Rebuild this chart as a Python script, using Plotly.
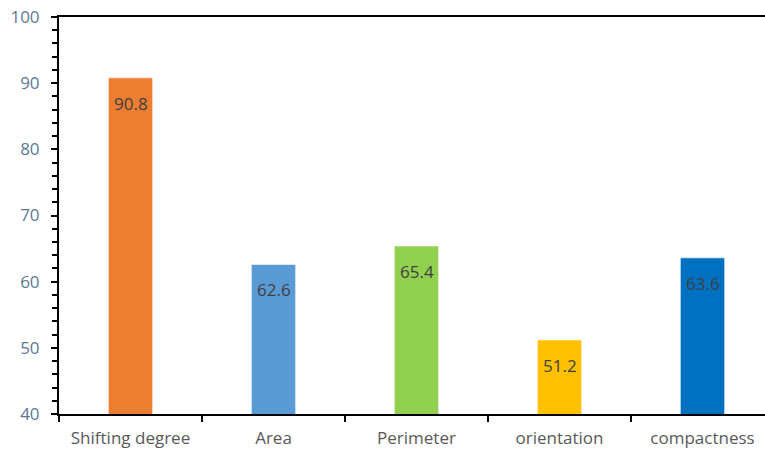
import plotly.graph_objects as go

categories = ["Shifting degree", "Area", "Perimeter", "orientation", "compactness"]
values = [90.8, 62.6, 65.4, 51.2, 63.6]
colors = ["#ED7D31", "#5B9BD5", "#92D050", "#FFC000", "#0070C0"]
y_ticks = [40, 50, 60, 70, 80, 90, 100]

fig = go.Figure(go.Bar(
    x=categories, y=values, marker_color=colors,
    marker_line=dict(color="rgba(255,255,255,0.6)", width=1),
    width=0.31,
))

for c, v in zip(categories, values):
    fig.add_annotation(
        x=c, y=v, text=f"{v:.1f}", showarrow=False,
        yanchor="top", yshift=-12,
        font=dict(family="Open Sans", size=17, color="#404040"),
    )

fig.update_layout(
    width=765, height=453,
    margin=dict(l=59, r=0, t=17, b=39),
    plot_bgcolor="white", paper_bgcolor="white",
    showlegend=False,
)
fig.update_xaxes(
    range=[-0.5, 4.437],
    showline=True, linecolor="black", linewidth=2, mirror=True,
    ticks="outside", tickson="boundaries", ticklen=6, tickwidth=2, tickcolor="black",
    tickfont=dict(family="Open Sans", size=17, color="#595959"),
    ticklabelstandoff=8,
    showgrid=False,
)
fig.update_yaxes(
    range=[40, 100], tickvals=y_ticks,
    showline=True, linecolor="black", linewidth=2,
    ticks="outside", ticklen=6, tickwidth=2, tickcolor="black",
    minor=dict(ticks="outside", ticklen=5, tickwidth=2, tickcolor="black", dtick=2),
    tickfont=dict(family="Open Sans", size=17, color="#5A7896"),
    ticklabelstandoff=8,
    showgrid=False, zeroline=False,
)

fig.write_html("out.html")
